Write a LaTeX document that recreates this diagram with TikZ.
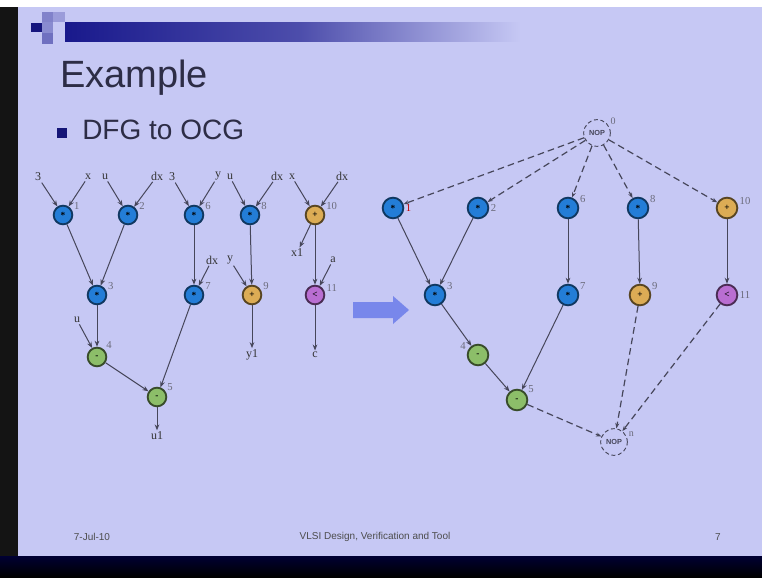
\documentclass[tikz,border=0pt]{standalone}
\usepackage{fontspec}
\setmainfont{Liberation Sans}
\newfontfamily\gfont{Liberation Serif}
\usetikzlibrary{arrows.meta}
\pgfdeclarelayer{edgelayer}
\pgfsetlayers{edgelayer,main}
\definecolor{bg}{RGB}{198,200,244}
\definecolor{navy}{RGB}{25,25,140}
\definecolor{titlec}{RGB}{45,45,70}
\definecolor{nblue}{RGB}{35,125,215}
\definecolor{ngreen}{RGB}{140,190,105}
\definecolor{norange}{RGB}{220,172,85}
\definecolor{npurple}{RGB}{185,110,210}
\definecolor{edgec}{RGB}{70,70,90}
\definecolor{arrowc}{RGB}{120,135,235}
\tikzset{
  opnode/.style={circle, minimum size=14pt, inner sep=0pt, line width=1.4pt, font=\gfont\fontsize{7}{7}\selectfont\bfseries},
  bop/.style={opnode, fill=nblue, draw=nblue!45!black},
  gop/.style={opnode, fill=ngreen, draw=ngreen!40!black},
  oop/.style={opnode, fill=norange, draw=norange!40!black},
  pop/.style={opnode, fill=npurple, draw=npurple!40!black},
  big/.style={minimum size=15.5pt},
  nlab/.style={font=\gfont\fontsize{8}{8}\selectfont, text=edgec!80, inner sep=1pt},
  inl/.style={font=\gfont\fontsize{9}{9}\selectfont, text=black!80, inner sep=1pt},
  e/.style={draw=edgec, line width=0.75pt, -{Stealth[length=4.5pt,width=3.5pt]}},
  de/.style={draw=edgec, line width=0.9pt, dash pattern=on 5pt off 3pt, -{Stealth[length=4pt,width=3pt]}},
  nop/.style={circle, draw=edgec, dash pattern=on 3pt off 2pt, line width=0.7pt, minimum size=20pt, inner sep=0pt, font=\fontsize{5.5}{5.5}\selectfont\bfseries, text=edgec},
  foot/.style={font=\fontsize{7.5}{8}\selectfont, text=black!70}
}
\begin{document}
\begin{tikzpicture}[x=0.75pt,y=-0.75pt]
\useasboundingbox (0,0) rectangle (762,577);
% photo frame and slide
\begin{pgfonlayer}{edgelayer}
\fill[white] (0,0) rectangle (762,577);
\fill[bg] (16,7) rectangle (762,558);
\fill[black!92] (0,7) rectangle (18,577);
\shade[top color=black!80!blue, bottom color=black] (0,556) rectangle (762,577);
% top decoration
\fill[navy!40!bg] (42,12) rectangle (53,22);
\fill[navy!25!bg] (53,12) rectangle (65,22);
\fill[navy!35!bg] (42,22) rectangle (53,33);
\fill[navy!50!bg] (42,33) rectangle (53,44);
\fill[navy!90!black] (31,23) rectangle (42,32);
\shade[left color=navy, right color=navy!70!bg] (65,23) rectangle (300,42);
\shade[left color=navy!70!bg, right color=bg] (300,23) rectangle (520,42);
\end{pgfonlayer}
% title and bullet
\node[anchor=base west, font=\fontsize{28.5}{30}\selectfont, text=titlec, inner sep=0pt] (title) at (60,88) {Example};
\fill[navy!85!black] (57,128) rectangle (67,138);
\node[anchor=base west, font=\fontsize{21}{24}\selectfont, text=titlec, inner sep=0pt] (sub) at (82,140) {DFG to OCG};
% ---------- left DFG ----------
\node[bop, label={[nlab]20:1}] (L1) at (63,215) {*};
\node[bop, label={[nlab]20:2}] (L2) at (128,215) {*};
\node[bop, label={[nlab]20:6}] (L6) at (194,215) {*};
\node[bop, label={[nlab]20:8}] (L8) at (250,215) {*};
\node[oop, label={[nlab]20:10}] (L10) at (315,215) {+};
\node[bop, label={[nlab]20:3}] (L3) at (97,295) {*};
\node[bop, label={[nlab]20:7}] (L7) at (194,295) {*};
\node[oop, label={[nlab]20:9}] (L9) at (252,295) {+};
\node[pop, label={[nlab]10:11}] (L11) at (315,295) {<};
\node[gop, label={[nlab]40:4}] (L4) at (97,357) {-};
\node[gop, label={[nlab]30:5}] (L5) at (157,397) {-};
\node[inl] (a1) at (38,177) {3};
\node[inl] (a2) at (88,177) {x};
\node[inl] (a3) at (105,177) {u};
\node[inl] (a4) at (157,176) {dx};
\node[inl] (a5) at (172,177) {3};
\node[inl] (a6) at (218,176) {y};
\node[inl] (a7) at (230,177) {u};
\node[inl] (a8) at (277,176) {dx};
\node[inl] (a9) at (292,177) {x};
\node[inl] (a10) at (342,176) {dx};
\node[inl] (b1) at (212,260) {dx};
\node[inl] (b2) at (230,260) {y};
\node[inl] (b3) at (333,260) {a};
\node[inl] (b4) at (77,320) {u};
\node[inl] (o1) at (297,253) {x1};
\node[inl] (o2) at (252,355) {y1};
\node[inl] (o3) at (315,355) {c};
\node[inl] (o4) at (157,436) {u1};
% block arrow
\fill[arrowc] (353,302) -- (393,302) -- (393,296) -- (409,310) -- (393,324) -- (393,318) -- (353,318) -- cycle;
% ---------- right OCG ----------
\node[nop, label={[nlab, font=\gfont\fontsize{7.5}{7.5}\selectfont]30:0}] (R0) at (597,133) {NOP};
\node[nop, label={[nlab, font=\gfont\fontsize{7.5}{7.5}\selectfont]15:n}] (Rn) at (614,442) {NOP};
\node[bop, big, label={[nlab, text=red!75!black]0:1}] (R1) at (393,208) {*};
\node[bop, big, label={[nlab]0:2}] (R2) at (478,208) {*};
\node[bop, big, label={[nlab]20:6}] (R6) at (568,208) {*};
\node[bop, big, label={[nlab]20:8}] (R8) at (638,208) {*};
\node[oop, big, label={[nlab]10:10}] (R10) at (727,208) {+};
\node[bop, big, label={[nlab]20:3}] (R3) at (435,295) {*};
\node[bop, big, label={[nlab]20:7}] (R7) at (568,295) {*};
\node[oop, big, label={[nlab]20:9}] (R9) at (640,295) {+};
\node[pop, big, label={[nlab]0:11}] (R11) at (727,295) {<};
\node[gop, big, label={[nlab]160:4}] (R4) at (478,355) {-};
\node[gop, big, label={[nlab]30:5}] (R5) at (517,400) {-};
% connectors (behind nodes and labels)
\begin{pgfonlayer}{edgelayer}
\foreach \s/\t in {a1/L1,a2/L1,a3/L2,a4/L2,a5/L6,a6/L6,a7/L8,a8/L8,a9/L10,a10/L10,
  b1/L7,b2/L9,b3/L11,b4/L4,L1/L3,L2/L3,L6/L7,L8/L9,L10/L11,L3/L4,L4/L5,L7/L5,
  L10/o1,L9/o2,L11/o3,L5/o4}
  \draw[e] (\s) -- (\t);
\foreach \s/\t in {R1/R3,R2/R3,R3/R4,R4/R5,R6/R7,R7/R5,R8/R9,R10/R11}
  \draw[e] (\s) -- (\t);
\foreach \t in {R1,R2,R6,R8,R10}
  \draw[de] (R0) -- (\t);
\foreach \s in {R5,R9,R11}
  \draw[de] (\s) -- (Rn);
\end{pgfonlayer}
% footer
\node[foot] (f1) at (92,537) {7-Jul-10};
\node[foot] (f2) at (375,537) {VLSI Design, Verification and Tool};
\node[foot] (f3) at (718,537) {7};
\end{tikzpicture}
\end{document}
